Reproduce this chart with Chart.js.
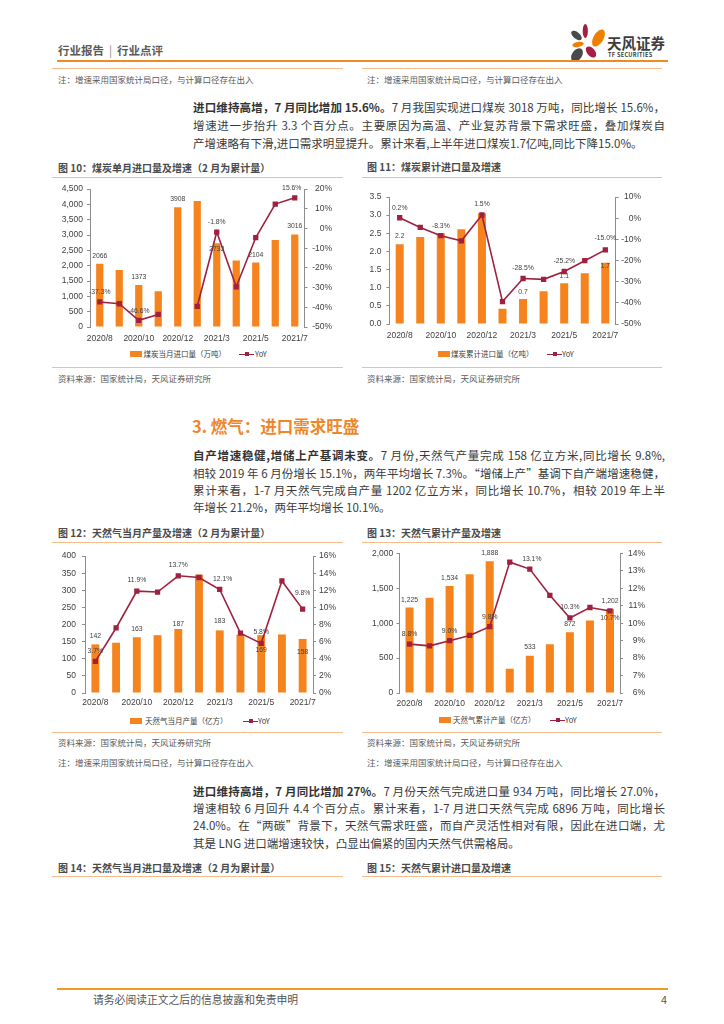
<!DOCTYPE html>
<html lang="zh-CN">
<head>
<meta charset="utf-8">
<title>行业点评</title>
<script src="https://cdn.jsdelivr.net/npm/chart.js@4.4.1/dist/chart.umd.min.js"></script>
<style>
  html, body { margin: 0; padding: 0; background: #fff; }
  body { width: 724px; height: 1024px; position: relative; overflow: hidden;
         font-family: "Noto Sans CJK SC", "Liberation Sans", sans-serif; color: #3a3a3a; }
  .t { position: absolute; white-space: nowrap; }
  .hr { position: absolute; height: 0; }
  .thin { border-top: 1.5px solid #F6BD8C; }
  .note { font-size: 8.5px; color: #5a5a5a; height: 12px; line-height: 12px; }
  .ftitle { font-size: 10px; font-weight: bold; color: #4a4a4a; height: 14px; line-height: 14px; }
  .para { position: absolute; left: 193px; width: 472px; height: 18px; line-height: 18px;
          font-size: 11.5px; color: #3a3a3a; overflow: hidden; }
  .just { text-align: justify; text-align-last: justify; }
  .para b { color: #333; }
  .chart { position: absolute; }
  .leg { font-size: 7.5px; color: #404040; height: 10px; line-height: 10px; }
  .sw { position: absolute; width: 12px; height: 6px; background: #F5841F; }
  .lsw { position: absolute; width: 15px; height: 0; border-top: 1.5px solid #A0213F; }
  .lsw i { position: absolute; left: 5.5px; top: -3px; width: 4px; height: 4px; background: #A0213F; }
</style>
</head>
<body>

<!-- header -->
<div class="t" style="left:58px; top:43px; font-size:11.5px; font-weight:bold; color:#5a5a5a; line-height:15px;">行业报告<span style="font-weight:normal; color:#888; padding:0 5px;">|</span>行业点评</div>
<svg class="t" style="left:566px; top:20px;" width="42" height="46" viewBox="566 20 42 46">
  <ellipse cx="585.3" cy="31" rx="2.6" ry="7" fill="#A31F44"/>
  <ellipse cx="598.5" cy="38" rx="5" ry="9.5" transform="rotate(30 598.5 38)" fill="#EE7F00"/>
  <ellipse cx="576.5" cy="35.5" rx="3.3" ry="6.3" transform="rotate(-50 576.5 35.5)" fill="#4A4A4A"/>
  <ellipse cx="578" cy="44.5" rx="5.8" ry="2.5" transform="rotate(-10 578 44.5)" fill="#EE7F00"/>
  <ellipse cx="591" cy="52" rx="4" ry="6.5" transform="rotate(-40 591 52)" fill="#A31F44"/>
  <ellipse cx="577" cy="55" rx="5" ry="7.5" transform="rotate(35 577 55)" fill="#4A4A4A"/>
</svg>
<div class="t" style="left:607px; top:34px; font-size:14.5px; font-weight:bold; color:#3d3d3d; line-height:18px;">天风证券</div>
<div class="t" style="left:608px; top:52px; font-size:5.6px; font-weight:bold; color:#3d3d3d; line-height:7px; letter-spacing:0.3px;">TF SECURITIES</div>
<div class="hr" style="left:57px; width:611px; top:60px; border-top:2px solid #F08A24;"></div>

<!-- notes of previous figures -->
<div class="hr thin" style="left:52px; width:291px; top:68px;"></div>
<div class="hr thin" style="left:362px; width:300px; top:68px;"></div>
<div class="t note" style="left:58px; top:73px;">注：增速采用国家统计局口径，与计算口径存在出入</div>
<div class="t note" style="left:367px; top:73px;">注：增速采用国家统计局口径，与计算口径存在出入</div>

<!-- paragraph 1 -->
<div class="para just" style="top:98px;"><b>进口维持高增，7 月同比增加 15.6%。</b>7 月我国实现进口煤炭 3018 万吨，同比增长 15.6%，</div>
<div class="para just" style="top:116px;">增速进一步抬升 3.3 个百分点。主要原因为高温、产业复苏背景下需求旺盛，叠加煤炭自</div>
<div class="para" style="top:134px;">产增速略有下滑,进口需求明显提升。累计来看,上半年进口煤炭1.7亿吨,同比下降15.0%。</div>

<!-- figure 10 / 11 -->
<div class="t ftitle" style="left:58px; top:161px;">图 10：煤炭单月进口量及增速（2 月为累计量）</div>
<div class="t ftitle" style="left:367px; top:160px;">图 11：煤炭累计进口量及增速</div>
<div class="hr thin" style="left:52px; width:291px; top:177px;"></div>
<div class="hr thin" style="left:362px; width:300px; top:177px;"></div>

<div class="chart" style="left:53px; top:180px; width:279px; height:167px;"><canvas id="c1"></canvas></div>
<div class="chart" style="left:362px; top:180px; width:279px; height:164px;"><canvas id="c2"></canvas></div>

<div class="sw" style="left:130px; top:351px;"></div>
<div class="t leg" style="left:143.5px; top:349px;">煤炭当月进口量（万吨）</div>
<div class="lsw" style="left:239px; top:353.5px;"><i></i></div>
<div class="t leg" style="left:255px; top:349px;">YoY</div>

<div class="sw" style="left:438px; top:351px;"></div>
<div class="t leg" style="left:451px; top:349px;">煤炭累计进口量（亿吨）</div>
<div class="lsw" style="left:547px; top:353.5px;"><i></i></div>
<div class="t leg" style="left:562px; top:349px;">YoY</div>

<div class="hr thin" style="left:52px; width:291px; top:367px;"></div>
<div class="hr thin" style="left:362px; width:300px; top:367px;"></div>
<div class="t note" style="left:58px; top:372px;">资料来源：国家统计局，天风证券研究所</div>
<div class="t note" style="left:367px; top:372px;">资料来源：国家统计局，天风证券研究所</div>

<!-- section 3 -->
<div class="t" style="left:192px; top:415px; font-size:16.5px; font-weight:bold; color:#F0862A; line-height:22px;">3. 燃气：进口需求旺盛</div>
<div class="para just" style="top:446px;"><b>自产增速稳健,增储上产基调未变。</b>7 月份,天然气产量完成 158 亿立方米,同比增长 9.8%,</div>
<div class="para just" style="top:463.5px;">相较 2019 年 6 月份增长 15.1%，两年平均增长 7.3%。“增储上产”基调下自产端增速稳健，</div>
<div class="para just" style="top:481px;">累计来看，1-7 月天然气完成自产量 1202 亿立方米，同比增长 10.7%，相较 2019 年上半</div>
<div class="para" style="top:498px;">年增长 21.2%，两年平均增长 10.1%。</div>

<!-- figure 12 / 13 -->
<div class="t ftitle" style="left:58px; top:526px;">图 12：天然气当月产量及增速（2 月为累计量）</div>
<div class="t ftitle" style="left:367px; top:526px;">图 13：天然气累计产量及增速</div>
<div class="hr thin" style="left:52px; width:291px; top:542px;"></div>
<div class="hr thin" style="left:362px; width:300px; top:542px;"></div>

<div class="chart" style="left:53px; top:545px; width:287px; height:168px;"><canvas id="c3"></canvas></div>
<div class="chart" style="left:362px; top:545px; width:283px; height:168px;"><canvas id="c4"></canvas></div>

<div class="sw" style="left:130px; top:718px;"></div>
<div class="t leg" style="left:145px; top:716px;">天然气当月产量（亿方）</div>
<div class="lsw" style="left:243px; top:720.5px;"><i></i></div>
<div class="t leg" style="left:258px; top:716px;">YoY</div>

<div class="sw" style="left:439px; top:717px;"></div>
<div class="t leg" style="left:453px; top:715px;">天然气累计产量（亿方）</div>
<div class="lsw" style="left:550px; top:719.5px;"><i></i></div>
<div class="t leg" style="left:565px; top:715px;">YoY</div>

<div class="hr thin" style="left:52px; width:291px; top:732px;"></div>
<div class="hr thin" style="left:362px; width:300px; top:732px;"></div>
<div class="t note" style="left:58px; top:736px;">资料来源：国家统计局，天风证券研究所</div>
<div class="t note" style="left:367px; top:736px;">资料来源：国家统计局，天风证券研究所</div>
<div class="t note" style="left:58px; top:756px;">注：增速采用国家统计局口径，与计算口径存在出入</div>
<div class="t note" style="left:367px; top:756px;">注：增速采用国家统计局口径，与计算口径存在出入</div>

<!-- paragraph 3 -->
<div class="para just" style="top:781.5px;"><b>进口维持高增，7 月同比增加 27%。</b>7 月份天然气完成进口量 934 万吨，同比增长 27.0%，</div>
<div class="para just" style="top:799px;">增速相较 6 月回升 4.4 个百分点。累计来看，1-7 月进口天然气完成 6896 万吨，同比增长</div>
<div class="para just" style="top:816px;">24.0%。在“两碳”背景下，天然气需求旺盛，而自产灵活性相对有限，因此在进口端，尤</div>
<div class="para" style="top:833.5px;">其是 LNG 进口端增速较快，凸显出偏紧的国内天然气供需格局。</div>

<div class="t ftitle" style="left:58px; top:861px;">图 14：天然气当月进口量及增速（2 月为累计量）</div>
<div class="t ftitle" style="left:367px; top:861px;">图 15：天然气累计进口量及增速</div>
<div class="hr thin" style="left:52px; width:291px; top:876px;"></div>
<div class="hr thin" style="left:362px; width:300px; top:876px;"></div>

<!-- footer -->
<div class="hr" style="left:57px; width:611px; top:987.5px; border-top:2.5px solid #F29A24;"></div>
<div class="t" style="left:93px; top:992px; font-size:10.8px; color:#555; line-height:15px;">请务必阅读正文之后的信息披露和免责申明</div>
<div class="t" style="left:661px; top:992px; font-size:10.8px; color:#555; line-height:15px;">4</div>

<script>
// categories (2021/2 is the Jan-Feb combined value)
const months = ['2020/8', '2020/9', '2020/10', '2020/11', '2020/12', '2021/2', '2021/3', '2021/4', '2021/5', '2021/6', '2021/7'];
const tickMonths = ['2020/8', '2020/10', '2020/12', '2021/3', '2021/5', '2021/7'];

// 图10 煤炭单月进口量（万吨）及同比
const coalMonthImport = [2066, 1860, 1373, 1170, 3908, 4110, 2733, 2171, 2104, 2839, 3016];
const coalMonthYoY = [-37.3, -38.2, -46.6, -43.6, null, -39.5, -1.8, -29.6, -4.6, 12.4, 15.6];

// 图11 煤炭累计进口量（亿吨）及同比
const coalCumImport = [2.2, 2.4, 2.5, 2.61, 3.05, 0.42, 0.69, 0.9, 1.12, 1.4, 1.69];
const coalCumYoY = [0.2, -4.4, -8.3, -10.7, 1.5, -39.4, -28.5, -28.9, -25.2, -20.1, -15.0];

// 图12 天然气当月产量（亿方）及同比
const gasMonthOutput = [142, 147, 163, 169, 187, 346, 183, 170, 169, 171, 158];
const gasMonthYoY = [3.7, 7.6, 11.9, 11.8, 13.7, 13.5, 12.1, 7.0, 5.8, 13.1, 9.8];

// 图13 天然气累计产量（亿方）及同比
const gasCumOutput = [1225, 1363, 1534, 1701, 1888, 347, 533, 698, 872, 1040, 1202];
const gasCumYoY = [8.8, 8.7, 9.0, 9.3, 9.8, 13.5, 13.1, 11.6, 10.3, 10.9, 10.7];

// axis ranges: [min, max, step]
const coalMonthAxis = [0, 4500, 500], coalMonthYoYAxis = [-50, 20, 10];
const coalCumAxis = [0, 3.5, 0.5], coalCumYoYAxis = [-50, 10, 10];
const gasMonthAxis = [0, 400, 50], gasMonthYoYAxis = [0, 16, 2];
const gasCumAxis = [0, 2000, 500], gasCumYoYAxis = [6, 14, 1];

const barOrange = '#F5841F';
const lineRed = '#A0213F';
const axisGray = '#8c8c8c';
const tickColor = '#404040';

Chart.defaults.font.family = '"Liberation Sans", "Noto Sans CJK SC", sans-serif';

// draws the value labels next to selected bars / points
const valueLabels = {
    id: 'valueLabels',
    afterDatasetsDraw: function(chart, args, opts) {
        const ctx = chart.ctx;
        ctx.save();
        ctx.font = '6.8px "Liberation Sans", sans-serif';
        ctx.fillStyle = '#404040';
        ctx.textAlign = 'center';
        ctx.textBaseline = 'middle';
        (opts.items || []).forEach(function(it) {
            const el = chart.getDatasetMeta(it.ds).data[it.i];
            const v = chart.data.datasets[it.ds].data[it.i];
            ctx.fillText(it.fmt(v), el.x + (it.dx || 0), el.y + it.dy);
        });
        ctx.restore();
    }
};

const pct = v => v.toFixed(1) + '%';
const comma = v => v.toLocaleString('en-US');

function buildChart(id, c) {
    const items = [];
    c.barLabels.forEach(function(l) { items.push({ ds: 1, i: l[0], dy: l[1], dx: l[2] || 0, fmt: c.barFmt }); });
    c.lineLabels.forEach(function(l) { items.push({ ds: 0, i: l[0], dy: l[1], dx: l[2] || 0, fmt: pct }); });

    return new Chart(document.getElementById(id), {
        type: 'bar',
        data: {
            labels: months,
            datasets: [
                {
                    type: 'line', label: 'YoY', data: c.yoy, yAxisID: 'y1',
                    borderColor: lineRed, backgroundColor: lineRed, borderWidth: 1.6,
                    pointStyle: 'rect', pointRadius: 2.6, pointHoverRadius: 2.6,
                    tension: 0, order: 0
                },
                {
                    type: 'bar', label: c.barName, data: c.bars, yAxisID: 'y',
                    backgroundColor: barOrange, categoryPercentage: 1, barPercentage: c.barPct,
                    order: 1
                }
            ]
        },
        options: {
            responsive: true,
            maintainAspectRatio: false,
            animation: false,
            layout: { padding: { top: c.padTop, left: 0, right: 0, bottom: 0 } },
            plugins: {
                legend: { display: false },
                tooltip: { enabled: false },
                valueLabels: { items: items }
            },
            scales: {
                x: {
                    grid: { display: false, drawTicks: false },
                    border: { display: false },
                    ticks: {
                        autoSkip: false, maxRotation: 0, padding: c.xPad,
                        color: tickColor, font: { size: 8.5 },
                        callback: function(v, i) { return tickMonths.includes(months[i]) ? months[i] : ''; }
                    },
                    afterFit: function(s) { s.height = c.xH; }
                },
                y: {
                    position: 'left',
                    min: c.axis[0], max: c.axis[1],
                    ticks: { stepSize: c.axis[2], padding: c.yPad, color: tickColor, font: { size: 8.5 }, callback: c.tickFmt },
                    grid: { drawOnChartArea: false, tickLength: 3, color: axisGray },
                    border: { color: axisGray, width: 1 },
                    afterFit: function(s) { s.width = c.yW; }
                },
                y1: {
                    position: 'right',
                    min: c.yoyAxis[0], max: c.yoyAxis[1],
                    ticks: { stepSize: c.yoyAxis[2], padding: c.y1Pad, crossAlign: c.y1Align, color: tickColor, font: { size: 8.5 },
                             callback: function(v) { return v + '%'; } },
                    grid: { drawOnChartArea: false, tickLength: 3, color: axisGray },
                    border: { color: axisGray, width: 1 },
                    afterFit: function(s) { s.width = c.y1W; }
                }
            }
        },
        plugins: [valueLabels]
    });
}

document.addEventListener('DOMContentLoaded', function() {
    buildChart('c1', {
        bars: coalMonthImport, yoy: coalMonthYoY, barName: '煤炭当月进口量（万吨）',
        axis: coalMonthAxis, yoyAxis: coalMonthYoYAxis,
        tickFmt: comma, barFmt: v => String(v), barPct: 0.37,
        padTop: 9, xH: 20, xPad: 7, yW: 37, y1W: 27.5, yPad: 4, y1Pad: 3, y1Align: 'far',
        barLabels: [[0, -8], [2, -8], [4, -8], [6, 6], [8, -7.5], [10, -8.5]],
        lineLabels: [[0, -10], [2, -9.6], [6, -10], [10, -10, -3]]
    });

    buildChart('c2', {
        bars: coalCumImport, yoy: coalCumYoY, barName: '煤炭累计进口量（亿吨）',
        axis: coalCumAxis, yoyAxis: coalCumYoYAxis,
        tickFmt: v => v.toFixed(1), barFmt: v => v.toFixed(1), barPct: 0.39,
        padTop: 17, xH: 20, xPad: 6.3, yW: 27.4, y1W: 25.4, yPad: 5, y1Pad: 3, y1Align: 'far',
        barLabels: [[0, -8.4], [6, -7], [8, -7], [10, 3.4]],
        lineLabels: [[0, -10], [2, -10], [4, -11], [6, -10], [8, -10], [10, -11.6]]
    });

    buildChart('c3', {
        bars: gasMonthOutput, yoy: gasMonthYoY, barName: '天然气当月产量（亿方）',
        axis: gasMonthAxis, yoyAxis: gasMonthYoYAxis,
        tickFmt: v => String(v), barFmt: v => String(v), barPct: 0.38,
        padTop: 7, xH: 20, xPad: 5, yW: 32, y1W: 27, yPad: 6, y1Pad: 3, y1Align: 'near',
        barLabels: [[0, -8.7], [2, -8.3], [4, -4.5], [6, -9.5], [8, 14.8], [10, 13.3]],
        lineLabels: [[0, -10], [2, -10.7], [4, -10.8], [6, -10, 3], [8, -11], [10, -15.6]]
    });

    buildChart('c4', {
        bars: gasCumOutput, yoy: gasCumYoY, barName: '天然气累计产量（亿方）',
        axis: gasCumAxis, yoyAxis: gasCumYoYAxis,
        tickFmt: comma, barFmt: comma, barPct: 0.4,
        padTop: 7, xH: 20, xPad: 5.5, yW: 37.5, y1W: 25, yPad: 3.3, y1Pad: 3, y1Align: 'far',
        barLabels: [[0, -7.7], [2, -8.3], [4, -8], [6, -8.6], [8, -8], [10, -8.3]],
        lineLabels: [[0, -10], [2, -10], [4, -10], [6, -10, 2], [8, -10.5], [10, 7]]
    });
});
</script>
</body>
</html>
